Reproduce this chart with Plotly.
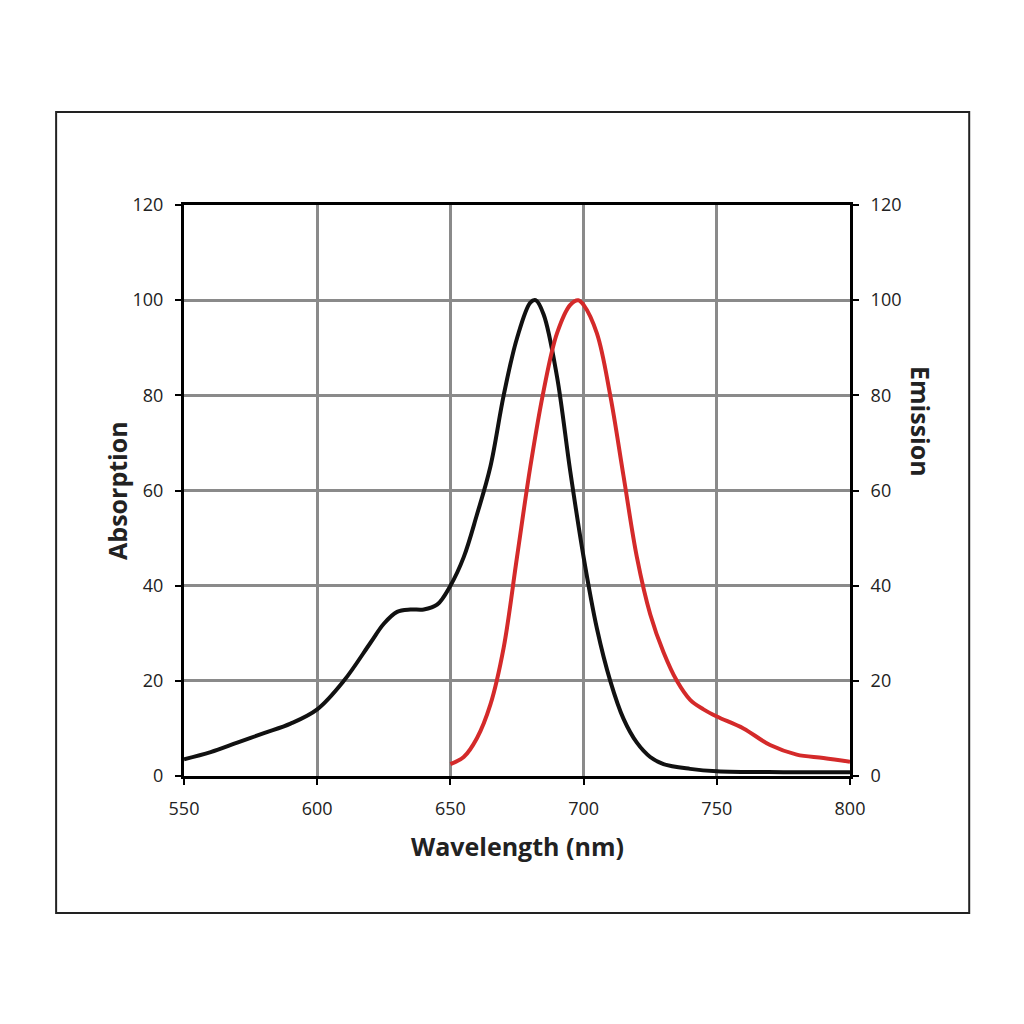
import plotly.graph_objects as go

abs_wl = [550, 560, 570, 580, 590, 600, 610, 620, 625, 630, 635, 640, 645, 650, 655, 660, 665,
          670, 675, 680, 682, 685, 690, 695, 700, 705, 710, 715, 720, 725, 730, 740, 750, 775, 800]
abs_val = [3.5, 5, 7, 9, 11, 14, 20, 28, 32, 34.5, 35, 35, 36, 40, 46, 55, 65,
           80, 92, 99.5, 100, 97, 84, 64, 46, 31, 20, 12, 7, 4, 2.5, 1.5, 1, 0.8, 0.8]

em_wl = [650, 655, 660, 665, 670, 675, 680, 685, 690, 695, 698, 700, 705, 710, 715, 720, 725,
         730, 735, 740, 745, 750, 760, 770, 780, 790, 800]
em_val = [2.5, 4, 8, 15, 27, 46, 65, 81, 93, 99, 100, 99, 93, 80, 63, 46, 34,
          26, 20, 16, 14, 12.5, 10, 6.5, 4.5, 3.8, 3]

font = "Open Sans"
fig = go.Figure()
fig.add_trace(go.Scatter(x=abs_wl, y=abs_val, mode="lines",
                         line=dict(color="#111111", width=4, shape="spline")))
fig.add_trace(go.Scatter(x=em_wl, y=em_val, mode="lines", yaxis="y2",
                         line=dict(color="#d42a2a", width=4, shape="spline")))

axis_common = dict(showline=True, linecolor="black", linewidth=3, ticks="outside",
                   ticklen=6, tickwidth=2, tickcolor="black", ticklabelstandoff=8,
                   tickfont=dict(family=font, size=18, color="#222"))
fig.update_layout(
    width=1024, height=1024, showlegend=False,
    paper_bgcolor="white", plot_bgcolor="white",
    margin=dict(l=176, r=182, t=197, b=256),
    xaxis=dict(range=[550, 800], dtick=50, showgrid=True, gridcolor="#8a8a8a",
               gridwidth=3, zeroline=False, mirror=True, **axis_common),
    yaxis=dict(range=[0, 120], dtick=20, showgrid=True, gridcolor="#8a8a8a",
               gridwidth=3, zeroline=False, **axis_common),
    yaxis2=dict(range=[0, 120], dtick=20, overlaying="y", side="right",
                showgrid=False, zeroline=False, **axis_common),
    annotations=[
        dict(text="<b>Absorption</b>", xref="paper", yref="paper", x=-0.13, y=0.5,
             textangle=-90, showarrow=False, font=dict(family=font, size=25, color="#222")),
        dict(text="<b>Emission</b>", xref="paper", yref="paper", x=1.135, y=0.62,
             textangle=90, showarrow=False, font=dict(family=font, size=25, color="#222")),
        dict(text="<b>Wavelength (nm)</b>", xref="paper", yref="paper", x=0.5, y=-0.155,
             showarrow=False, font=dict(family=font, size=25, color="#222")),
    ],
    shapes=[dict(type="rect", xref="paper", yref="paper", x0=-0.192, x1=1.179,
                 y0=-0.24, y1=1.163, line=dict(color="#222", width=2))],
)
fig.write_html("out.html")
